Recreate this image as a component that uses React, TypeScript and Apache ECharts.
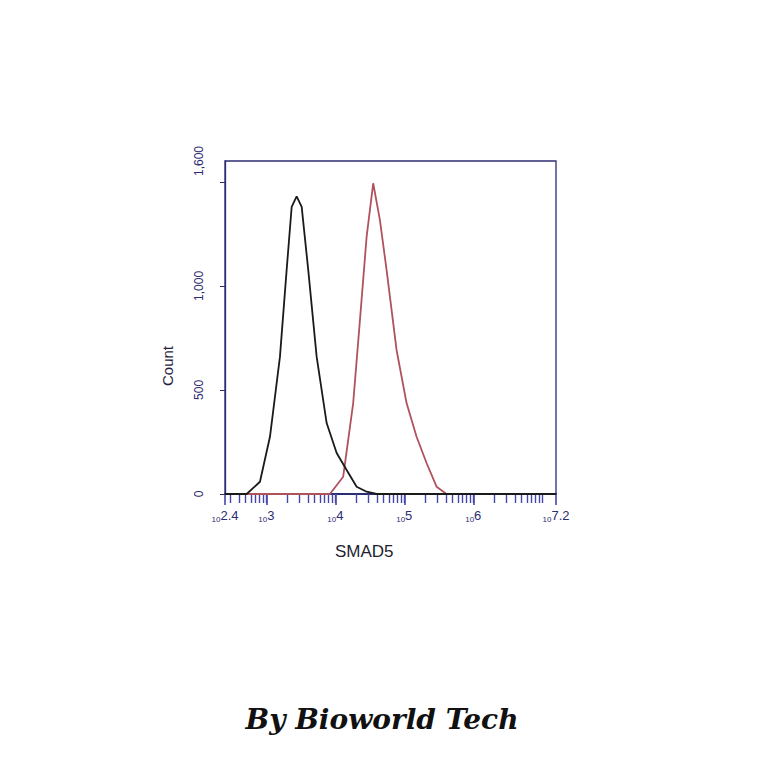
import React, { useEffect, useRef } from "react";
import * as echarts from "echarts";

// log10(fluorescence) positions and counts
const controlX = [2.4, 2.714, 2.907, 3.052, 3.197, 3.294, 3.367, 3.439, 3.512, 3.607, 3.729, 3.874, 4.019, 4.164, 4.309, 4.454, 4.599, 7.2];
const controlY = [0, 0, 59, 275, 660, 1077, 1380, 1430, 1380, 1077, 660, 341, 197, 115, 35, 11, 0, 0];
const smadX = [2.4, 3.922, 4.114, 4.259, 4.357, 4.454, 4.549, 4.646, 4.743, 4.888, 5.033, 5.178, 5.323, 5.468, 5.613, 7.2];
const smadY = [0, 0, 83, 437, 836, 1237, 1493, 1317, 1077, 692, 437, 275, 149, 35, 0, 0];

const xMajorTicks = [2.4, 3, 4, 5, 6, 7.2];
const xMajorLabels = ["2.4", "3", "4", "5", "6", "7.2"];
const yTicks = [0, 500, 1000, 1500];
const yLabelValues = [0, 500, 1000, 1600];
const yLabels = ["0", "500", "1,000", "1,600"];

const minorTicks: number[] = [];
for (let n = 2; n <= 7; n++) {
  for (let k = 1; k <= 9; k++) {
    const v = n + Math.log10(k);
    if (v > 2.4 && v < 7.2) minorTicks.push(+v.toFixed(4));
  }
}

const NAVY = "#2c2c72";
const TICK = "#4646a8";

export default function App() {
  const ref = useRef<HTMLDivElement>(null);
  useEffect(() => {
    if (!ref.current) return;
    const chart = echarts.init(ref.current, undefined, { renderer: "svg" });
    chart.setOption({
      animation: false,
      backgroundColor: "#ffffff",
      grid: { left: 225, top: 161, width: 331, height: 333, show: true, borderColor: NAVY, borderWidth: 1.3 },
      title: [
        { text: "SMAD5", left: 330, top: 538, textStyle: { fontFamily: "Liberation Sans, Arial", fontSize: 17, fontWeight: "normal", color: "#1e1e2e" } },
        { text: "By Bioworld Tech", left: "center", top: 700, textStyle: { fontFamily: "DejaVu Serif", fontStyle: "italic", fontWeight: "bold", fontSize: 28, color: "#111" } },
      ],
      graphic: [
        { type: "text", x: 167, y: 366, rotation: Math.PI / 2, style: { text: "Count", fontFamily: "Liberation Sans, Arial", fontSize: 15, fill: "#1e1e3e", align: "center", verticalAlign: "middle" } },
      ],
      xAxis: [
        {
          type: "value", min: 2.4, max: 7.2, position: "bottom",
          axisLine: { show: true, lineStyle: { color: NAVY, width: 2 } },
          splitLine: { show: false },
          axisTick: { show: true, customValues: minorTicks, length: 9, lineStyle: { color: TICK, width: 1.4 } },
          axisLabel: { show: false },
        },
        {
          type: "value", min: 2.4, max: 7.2, position: "bottom",
          axisLine: { show: false },
          splitLine: { show: false },
          axisTick: { show: true, customValues: xMajorTicks, length: 11, lineStyle: { color: TICK, width: 1.6 } },
          axisLabel: {
            show: true, customValues: xMajorTicks, margin: 14,
            formatter: (v: number) => {
              const i = xMajorTicks.findIndex((t) => Math.abs(t - v) < 1e-6);
              return "{a|10}{b|" + (i >= 0 ? xMajorLabels[i] : "") + "}";
            },
            rich: {
              a: { fontSize: 8, fontFamily: "Liberation Sans, Arial", color: NAVY, verticalAlign: "bottom", padding: [7, 0, 0, 0] },
              b: { fontSize: 13, fontFamily: "Liberation Sans, Arial", color: NAVY },
            },
          },
        },
      ],
      yAxis: {
        type: "value", min: 0, max: 1600,
        axisLine: { show: true, lineStyle: { color: NAVY, width: 1.3 } },
        splitLine: { show: false },
        axisTick: { show: true, customValues: yTicks, length: 5, lineStyle: { color: NAVY } },
        axisLabel: {
          show: true, customValues: yLabelValues, rotate: 90, margin: 20,
          fontFamily: "Liberation Sans, Arial", fontSize: 12, color: NAVY,
          formatter: (v: number) => {
            const i = yLabelValues.indexOf(v);
            return i >= 0 ? yLabels[i] : "";
          },
        },
      },
      series: [
        {
          type: "line", xAxisIndex: 0, showSymbol: false, smooth: false,
          data: controlX.map((x, i) => [x, controlY[i]]),
          lineStyle: { color: "#1a1a1a", width: 1.8 }, z: 3,
        },
        {
          type: "line", xAxisIndex: 0, showSymbol: false, smooth: false,
          data: smadX.map((x, i) => [x, smadY[i]]),
          lineStyle: { color: "#b0525c", width: 1.8 }, z: 2,
        },
      ],
    });
    return () => chart.dispose();
  }, []);
  return <div ref={ref} style={{ position: "absolute", left: 0, top: 0, width: 764, height: 764 }} />;
}
